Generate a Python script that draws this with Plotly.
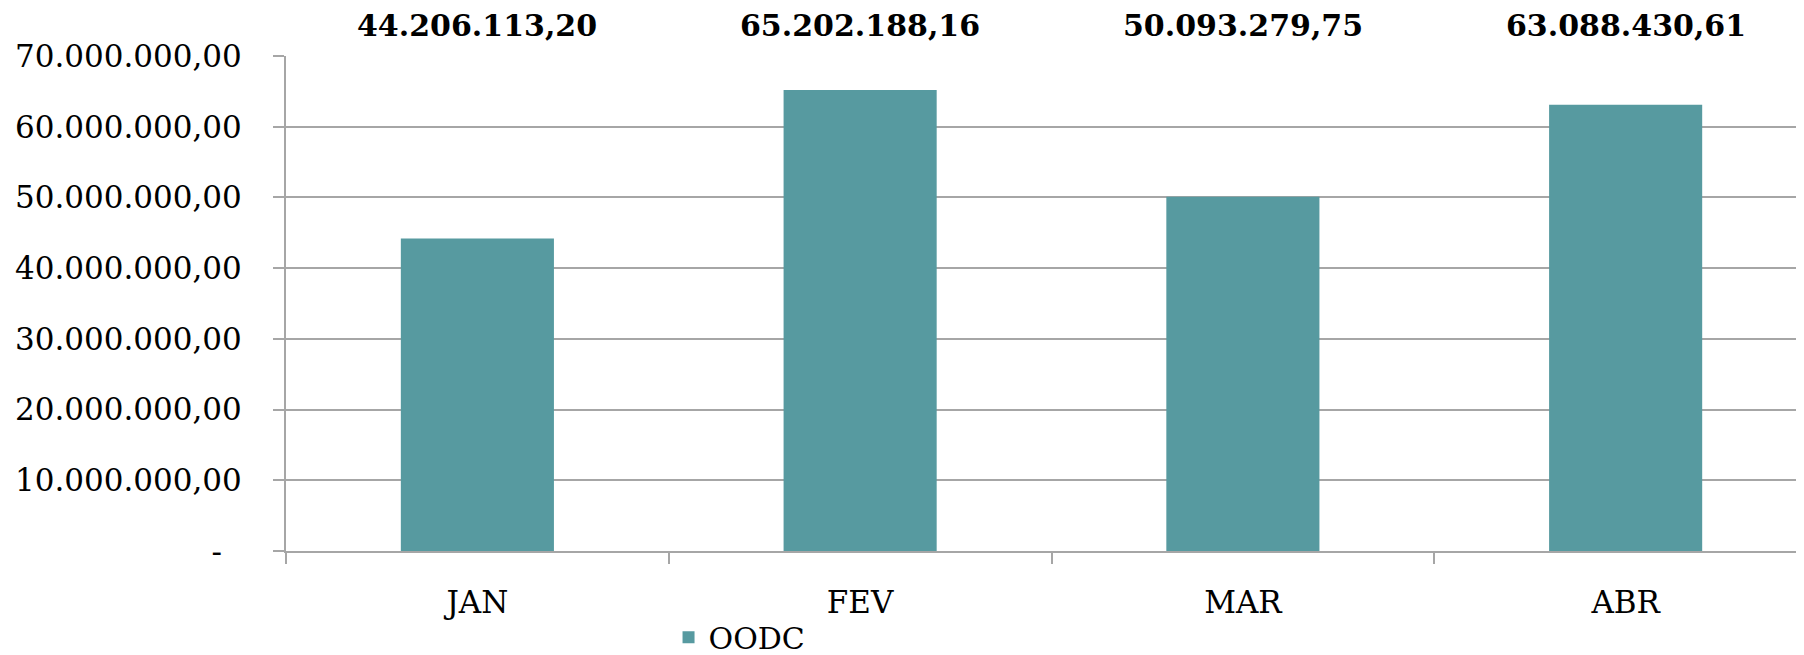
import plotly.graph_objects as go

# ---- data ----
months = ["JAN", "FEV", "MAR", "ABR"]
oodc = [44206113.20, 65202188.16, 50093279.75, 63088430.61]
series_name = "OODC"
y_tick_values = [0, 10000000, 20000000, 30000000, 40000000, 50000000, 60000000, 70000000]
y_tick_labels = ["-\u00a0\u00a0", "10.000.000,00", "20.000.000,00", "30.000.000,00",
                 "40.000.000,00", "50.000.000,00", "60.000.000,00", "70.000.000,00"]


def fmt_br(v):
    s = f"{v:,.2f}"
    return s.replace(",", "X").replace(".", ",").replace("X", ".")


BAR = "#579aa0"
GRID = "#a6a6a6"
FONT = "DejaVu Serif"

fig = go.Figure()
fig.add_trace(go.Bar(
    x=months, y=oodc, name=series_name, width=0.4,
    marker=dict(color=BAR, line=dict(width=0)),
    showlegend=True,
))

annotations = []
for m, v in zip(months, oodc):
    annotations.append(dict(
        x=m, y=1, xref="x", yref="paper", yshift=31,
        text=f"<b>{fmt_br(v)}</b>", showarrow=False,
        xanchor="center", yanchor="middle",
        font=dict(family=FONT, size=30, color="#000000"),
    ))

# page body has an 8px default margin, so the figure is sized to fit the 1804x655 window
fig.update_layout(
    width=1796, height=647,
    margin=dict(l=278, r=0, t=48, b=104, pad=0, autoexpand=False),
    paper_bgcolor="white", plot_bgcolor="white",
    font=dict(family=FONT, size=31, color="#000000"),
    bargap=0.6,
    annotations=annotations,
    showlegend=True,
    legend=dict(
        orientation="h", x=0.252, xanchor="left", y=-0.174, yanchor="middle",
        font=dict(family=FONT, size=30, color="#000000"),
        bgcolor="rgba(0,0,0,0)", borderwidth=0,
    ),
    xaxis=dict(
        type="category", range=[-0.5, 3.466],
        showline=True, linecolor=GRID, linewidth=2,
        ticks="outside", tickson="boundaries", ticklen=11, tickcolor=GRID, tickwidth=2,
        showgrid=False, ticklabelstandoff=23,
        tickfont=dict(family=FONT, size=31, color="#000000"),
    ),
    yaxis=dict(
        range=[0, 70000000],
        tickmode="array", tickvals=y_tick_values, ticktext=y_tick_labels,
        showgrid=True, gridcolor=GRID, gridwidth=1.5,
        showline=True, linecolor=GRID, linewidth=2,
        ticks="outside", ticklen=11, tickcolor=GRID, tickwidth=2,
        zeroline=False, ticklabelstandoff=25,
        tickfont=dict(family=FONT, size=31, color="#000000"),
    ),
)

fig.write_html("out.html")
